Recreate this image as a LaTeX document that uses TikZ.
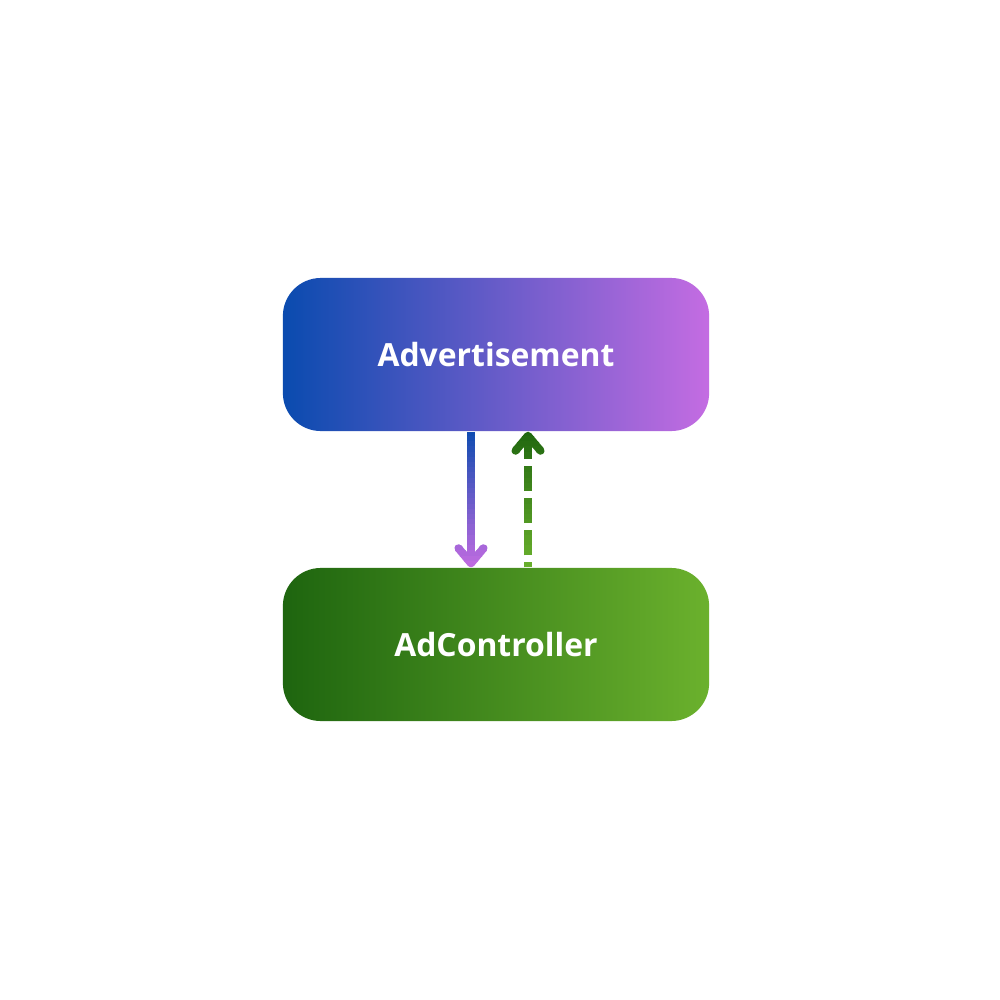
\documentclass[tikz,border=0pt]{standalone}
\usepackage{fontspec}
\setmainfont{Open Sans}
\usetikzlibrary{arrows.meta,calc}
\definecolor{bA}{HTML}{0A4BAF}
\definecolor{pA}{HTML}{C46CE2}
\definecolor{gD}{HTML}{1E650F}
\definecolor{gL}{HTML}{6BB12D}
\tikzset{
 box/.style={rounded corners=0.38cm, minimum width=4.26cm, minimum height=1.53cm, inner sep=0pt, text=white, font=\bfseries\fontsize{9.07}{11}\selectfont},
 topbox/.style={box, left color=bA, right color=pA},
 botbox/.style={box, left color=gD, right color=gL},
 conn/.style={line width=0.08cm, -{Straight Barb[length=0.15cm, width=0.25cm, round]}},
 dashconn/.style={conn, dash pattern=on 0.25cm off 0.07cm, dash phase=0.2cm},
}
\begin{document}
\begin{tikzpicture}[x=0.01cm,y=-0.01cm]
\path[fill=white] (0,0) rectangle (1000,1000);
\node[topbox] (adv) at (496,354.5) {Advertisement};
\node[botbox] (ctl) at (496,644.5) {AdController};
\foreach \i in {0,...,27}{
 \pgfmathsetmacro{\ya}{426+\i*5.2}
 \pgfmathsetmacro{\yb}{\ya+5.7}
 \pgfmathsetmacro{\p}{100*\i/27}
 \begin{scope}
  \clip (440,\ya) rectangle (500,\yb);
  \draw[conn, draw=pA!\p!bA] ([xshift=-0.25cm]adv.south) -- ([xshift=-0.25cm]ctl.north);
 \end{scope}
 \begin{scope}
  \clip (500,\ya) rectangle (560,\yb);
  \draw[dashconn, draw=gL!\p!gD] ([xshift=0.32cm]ctl.north) -- ([xshift=0.32cm]adv.south);
 \end{scope}
}
\end{tikzpicture}
\end{document}
